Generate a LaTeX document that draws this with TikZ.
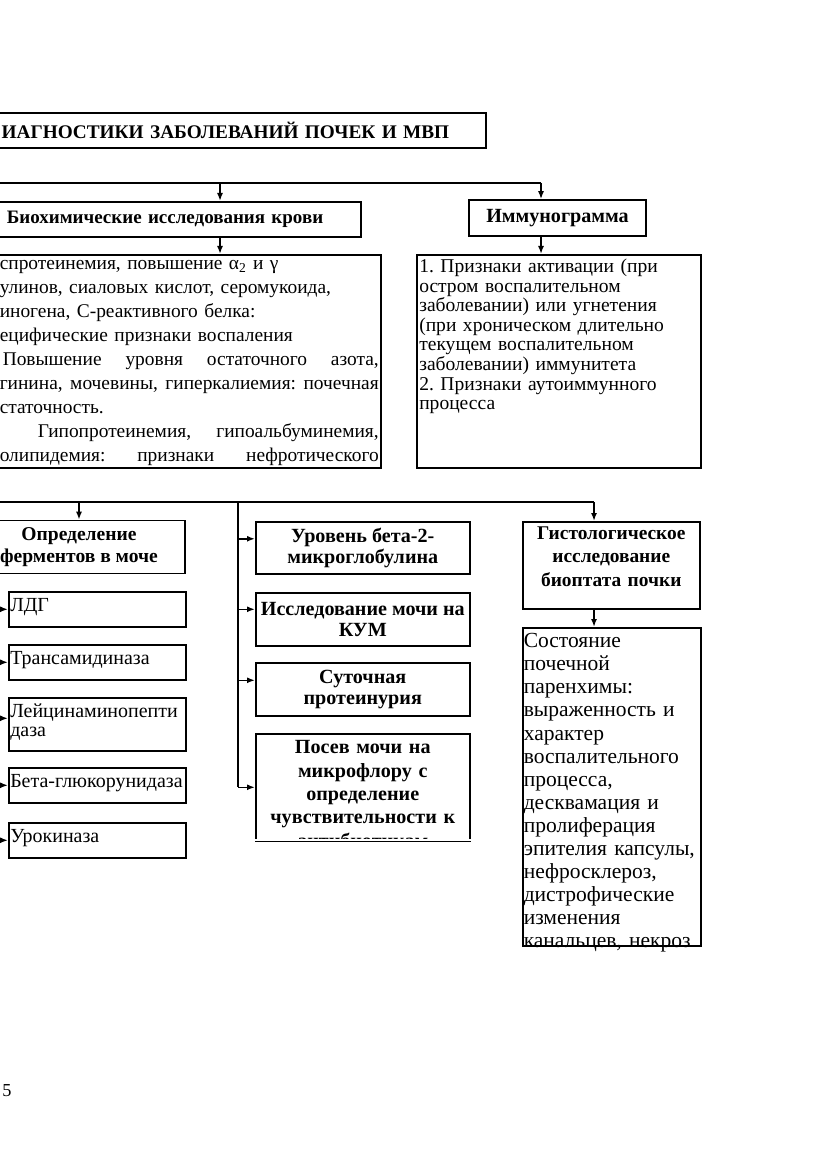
\documentclass[tikz,border=0pt]{standalone}
\usepackage{fontspec}
\setmainfont{Liberation Serif}
\usetikzlibrary{arrows.meta}
\frenchspacing
\newlength\pxu
\setlength\pxu{0.025cm}
% a justified line of the blood test box
\newcommand{\jline}[1]{\leavevmode\hbox to 379\pxu{\spaceskip=0.25em plus 1fil\relax#1}}

\tikzset{
  box/.style={draw, line width=1.1pt, inner ysep=0pt, inner xsep=2\pxu, align=center,
    font=\fontsize{14.3}{15.3}\selectfont\bfseries},
  txtbox/.style={draw, line width=1.1pt, anchor=north west, inner ysep=0pt, inner xsep=2\pxu, align=left},
  link/.style={line width=1.1pt},
  arr/.style={line width=1.1pt, -{Latex[length=2mm,width=1.5mm]}},
}

\begin{document}
\begin{tikzpicture}[x=0.025cm, y=-0.025cm]
\clip (0,0) rectangle (831,1174);
% title, cut by the page edge
\node[box, anchor=north east, align=right, text width=460\pxu, inner xsep=37\pxu, minimum height=35\pxu, font=\fontsize{13.7}{15}\selectfont\bfseries] (title) at (487,112) {ИАГНОСТИКИ ЗАБОЛЕВАНИЙ ПОЧЕК И МВП};

% first level
\node[box, anchor=north east, align=right, text width=400\pxu, inner xsep=38\pxu, minimum height=35\pxu, font=\fontsize{13.5}{15}\selectfont\bfseries] (bio) at (362,201) {Биохимические исследования крови};
\node[box, minimum width=177\pxu, minimum height=36\pxu] (immun) at (557.5,218) {Иммунограмма};
\coordinate (bus1) at (-5,183);
\coordinate (j1) at (220,183);
\coordinate (j2) at (541,183);
\draw[link] (bus1) -- (j2);
\draw[arr] (j1) -- (j1 |- bio.north);
\draw[arr] (j2) -- (j2 |- immun.north);

% findings
\node[txtbox, text width=379\pxu, text height=15\pxu, text depth=198\pxu, font=\fontsize{13.8}{17.07}\selectfont] (biotxt) at (-3,254) {спротеинемия, повышение α\textsubscript{2} и γ\\
улинов, сиаловых кислот, серомукоида,\\
иногена, С-реактивного белка:\\
ецифические признаки воспаления\\
\jline{\hspace*{3\pxu}Повышение уровня остаточного азота,}\\
\jline{гинина, мочевины, гиперкалиемия: почечная}\\
статочность.\\
\jline{\hspace*{38\pxu}Гипопротеинемия, гипоальбуминемия,}\\
\jline{олипидемия: признаки нефротического}};
\node[txtbox, text width=279\pxu, inner xsep=2.5\pxu, text height=18\pxu, text depth=195\pxu, font=\fontsize{13.9}{13.9}\selectfont] (immtxt) at (416,254) {1. Признаки активации (при\\
остром воспалительном\\
заболевании) или угнетения\\
(при хроническом длительно\\
текущем воспалительном\\
заболевании) иммунитета\\
2. Признаки аутоиммунного\\
процесса};
\draw[arr] (j1 |- bio.south) -- (j1 |- biotxt.north);
\draw[arr] (j2 |- immun.south) -- (j2 |- immtxt.north);

% second bus
\coordinate (bus2) at (-5,502);
\coordinate (j3) at (79,502);
\coordinate (j4) at (238,502);
\coordinate (j5) at (594,502);
\draw[link] (bus2) -- (j5);

\node[box, minimum width=212\pxu, minimum height=53\pxu, font=\fontsize{13.9}{15.3}\selectfont\bfseries] (ferm) at (79,547) {Определение\\ферментов в моче};
\draw[arr] (j3) -- (ferm.north);

% enzymes, fed from the left edge
\coordinate (lbus) at (-6,0);
\foreach \nm/\y/\bh/\dy/\txt in {ldg/591/15.5/0/ЛДГ, transam/644/15.5/0/Трансамидиназа, leic/697/33.5/6/{Лейцинаминопепти\\даза}, betag/767/15.5/0/Бета-глюкорунидаза, urok/822/15.5/0/Урокиназа}{
  \node[txtbox, text width=174\pxu, inner xsep=1.5\pxu, text height=19.5\pxu, text depth=\bh\pxu, font=\fontsize{14.2}{13.9}\selectfont] (\nm) at (8,\y) {\txt};
  \coordinate (e) at ([yshift=\dy\pxu]\nm.west);
  \draw[arr] (e -| lbus) -- (e);
}

% middle column
\node[box, anchor=north west, minimum width=214\pxu, minimum height=52\pxu] (urov) at (255,521) {Уровень бета-2-\\микроглобулина};
\node[box, anchor=north west, minimum width=214\pxu, minimum height=53\pxu] (issl) at (255,592) {Исследование мочи на\\КУМ};
\node[box, anchor=north west, minimum width=214\pxu, minimum height=53\pxu] (sut) at (255,662) {Суточная\\протеинурия};
\begin{scope}
\clip (250,730) rectangle (475,838.5);
\node[box, anchor=north west, text width=210\pxu, text height=20\pxu, text depth=87\pxu, font=\fontsize{14.3}{16.6}\selectfont\bfseries] (posev) at (255,733) {Посев мочи на\\микрофлору с\\определение\\чувствительности к\\антибиотикам};
\end{scope}
\draw[link] (posev.south west) -- (posev.south east);
\draw[link] (j4) -- (j4 |- posev.west);
\foreach \nm/\dy in {urov/9, issl/10, sut/9, posev/0}{
  \coordinate (e) at ([yshift=\dy\pxu]\nm.west);
  \draw[arr] (e -| j4) -- (e);
}

% histology
\node[box, anchor=north west, text width=173\pxu, text height=18\pxu, text depth=69\pxu, font=\fontsize{13.8}{16.5}\selectfont\bfseries] (hist) at (522,521) {Гистологическое\\исследование\\биоптата почки};
\node[txtbox, text width=176\pxu, inner xsep=1\pxu, text height=20\pxu, text depth=298\pxu, font=\fontsize{15.3}{16.4}\selectfont] (histtxt) at (522,627) {Состояние\\
почечной\\
паренхимы:\\
выраженность и\\
характер\\
воспалительного\\
процесса,\\
десквамация и\\
пролиферация\\
эпителия капсулы,\\
нефросклероз,\\
дистрофические\\
изменения\\
канальцев, некроз};
\draw[arr] (j5) -- (j5 |- hist.north);
\draw[arr] (j5 |- hist.south) -- (j5 |- histtxt.north);

% page number
\node[font=\fontsize{13}{15}\selectfont, anchor=west, inner sep=0pt] (pnum) at (2,1091) {5};
\end{tikzpicture}
\end{document}
